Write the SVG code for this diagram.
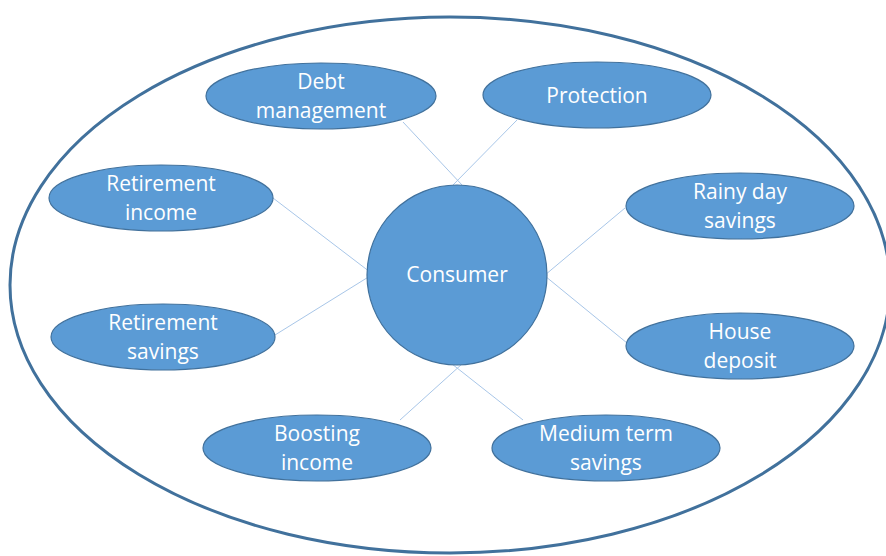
<svg xmlns="http://www.w3.org/2000/svg" width="886" height="556" viewBox="0 0 886 556">
  <style>
    .node { fill: #5b9bd5; stroke: #41719c; stroke-width: 1.2; }
    .frame { fill: #ffffff; stroke: #41719c; stroke-width: 3; }
    .label { fill: #ffffff; font-family: "Open Sans", "Liberation Sans", sans-serif; font-size: 21px; text-anchor: middle; }
    .link { stroke: #a8c6e8; stroke-width: 1; fill: none; }
  </style>
  <rect width="886" height="556" fill="#ffffff"/>
  <ellipse id="frame" class="frame" cx="450" cy="285" rx="440" ry="268"/>

  <g id="connectors">
    <line class="link" x1="403" y1="122" x2="462" y2="185"/>
    <line class="link" x1="517" y1="120" x2="453" y2="185"/>
    <line class="link" x1="273" y1="198" x2="370" y2="272"/>
    <line class="link" x1="275" y1="335" x2="370" y2="276"/>
    <line class="link" x1="625" y1="208" x2="545" y2="275"/>
    <line class="link" x1="627" y1="343" x2="545" y2="276"/>
    <line class="link" x1="400" y1="420" x2="462" y2="364"/>
    <line class="link" x1="523" y1="420" x2="452" y2="364"/>
  </g>

  <g id="consumer">
    <circle class="node" cx="457" cy="275" r="90"/>
    <text class="label" x="457" y="282">Consumer</text>
  </g>
  <g id="debt-management">
    <ellipse class="node" cx="321" cy="96" rx="115" ry="33"/>
    <text class="label" x="321" y="89">Debt</text>
    <text class="label" x="321" y="118">management</text>
  </g>
  <g id="protection">
    <ellipse class="node" cx="597" cy="95" rx="114" ry="33"/>
    <text class="label" x="597" y="103">Protection</text>
  </g>
  <g id="retirement-income">
    <ellipse class="node" cx="161" cy="198" rx="112" ry="33"/>
    <text class="label" x="161" y="191">Retirement</text>
    <text class="label" x="161" y="220">income</text>
  </g>
  <g id="rainy-day-savings">
    <ellipse class="node" cx="740" cy="206" rx="114" ry="33"/>
    <text class="label" x="740" y="199">Rainy day</text>
    <text class="label" x="740" y="228">savings</text>
  </g>
  <g id="retirement-savings">
    <ellipse class="node" cx="163" cy="337" rx="112" ry="33"/>
    <text class="label" x="163" y="330">Retirement</text>
    <text class="label" x="163" y="359">savings</text>
  </g>
  <g id="house-deposit">
    <ellipse class="node" cx="740" cy="346" rx="114" ry="33"/>
    <text class="label" x="740" y="339">House</text>
    <text class="label" x="740" y="368">deposit</text>
  </g>
  <g id="boosting-income">
    <ellipse class="node" cx="317" cy="448" rx="114" ry="33"/>
    <text class="label" x="317" y="441">Boosting</text>
    <text class="label" x="317" y="470">income</text>
  </g>
  <g id="medium-term-savings">
    <ellipse class="node" cx="606" cy="448" rx="114" ry="33"/>
    <text class="label" x="606" y="441">Medium term</text>
    <text class="label" x="606" y="470">savings</text>
  </g>
</svg>
